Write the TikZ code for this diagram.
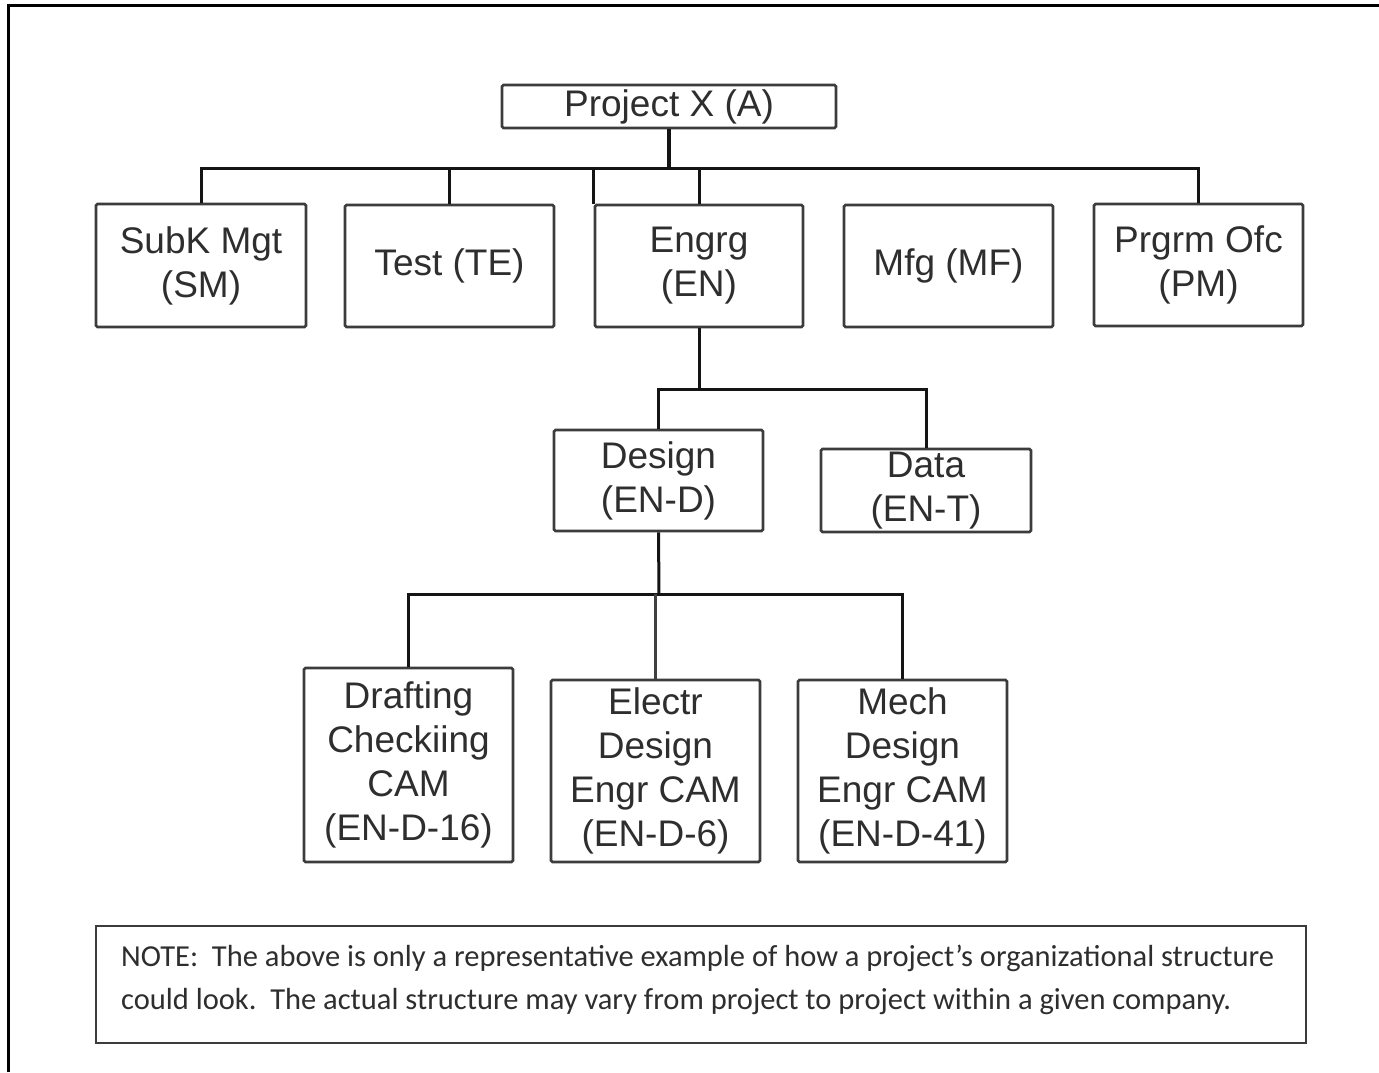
\documentclass[tikz,border=0pt]{standalone}
\usepackage{fontspec}
\setmainfont{Liberation Sans}
\newfontfamily\notefont{Carlito}
\begin{document}
\begin{tikzpicture}[x=1pt,y=-1pt,
  unit/.style={draw=boxline, line width=2.6pt, rounded corners=1.5pt, fill=white,
    text=inkgray, align=center, inner sep=0pt, font=\fontsize{37}{44}\selectfont},
  link/.style={draw=black!92, line width=3pt},
  thinlink/.style={draw=black!75, line width=2.4pt}]
\definecolor{boxline}{HTML}{3C3C3C}
\definecolor{inkgray}{HTML}{2E2E2E}
\useasboundingbox[fill=white] (0,0) rectangle (1379,1072);
% page frame (top and left rules)
\draw[line width=3pt] (8,1072) -- (8,5) -- (1379,5);

% level 0
\node[unit, minimum width=334pt, minimum height=43pt] (top) at (669,106.5) {Project X (A)};
% level 1
\node[unit, minimum width=210pt, minimum height=123pt] (sm) at (201,265.5) {SubK Mgt\\(SM)};
\node[unit, minimum width=209pt, minimum height=122pt] (te) at (449.5,266) {Test (TE)};
\node[unit, minimum width=208pt, minimum height=122pt] (en) at (699,266) {Engrg\\(EN)};
\node[unit, minimum width=209pt, minimum height=122pt] (mf) at (948.5,266) {Mfg (MF)};
\node[unit, minimum width=209pt, minimum height=122pt] (pm) at (1198.5,265) {Prgrm Ofc\\(PM)};
% level 2
\node[unit, minimum width=209pt, minimum height=101pt] (des) at (658.5,480.5) {Design\\(EN-D)};
\node[unit, minimum width=210pt, minimum height=83pt] (dat) at (926,490.5) {Data\\(EN-T)};
% level 3
\node[unit, minimum width=209pt, minimum height=194pt] (dr) at (408.5,765) {Drafting\\Checkiing\\CAM\\(EN-D-16)};
\node[unit, minimum width=209pt, minimum height=182pt] (el) at (655.5,771) {Electr\\Design\\Engr CAM\\(EN-D-6)};
\node[unit, minimum width=209pt, minimum height=182pt] (me) at (902.5,771) {Mech\\Design\\Engr CAM\\(EN-D-41)};

% note box
\node[draw=boxline, line width=2.6pt, minimum width=1210pt, minimum height=117pt, inner sep=0pt] (note) at (701,984.5) {};
\node[anchor=west, align=left, inner sep=0pt, text=inkgray,
  font=\notefont\fontsize{30.5}{43}\selectfont] (notetext) at (121,980)
  {NOTE:\ \ The above is only a representative example of how a project’s organizational structure\\
   could look.\ \ The actual structure may vary from project to project within a given company.};

% connectors
\coordinate (busA) at (669,168);
\coordinate (busB) at (699,389);
\coordinate (busC) at (659,594);

\draw[link, line width=4pt] (top.south) -- (busA);
\draw[link] (sm.north) |- (busA) -| (pm.north);
\draw[link] (te.north) -- (te.north |- busA);
\draw[link] (en.north west) -- (en.north west |- busA);
\draw[link] (en.north) -- (en.north |- busA);

\draw[link] (en.south) -- (busB);
\draw[link] (des.north) |- (busB) -| (dat.north);

\draw[link] (des.south) -- (busC);
\draw[link] (dr.north) |- (busC) -| (me.north);
\draw[thinlink] (el.north) -- (el.north |- busC);
\end{tikzpicture}
\end{document}
